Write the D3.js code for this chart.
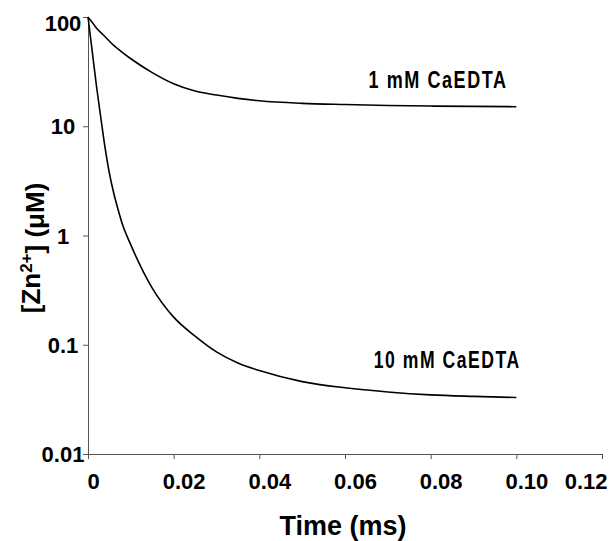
<!DOCTYPE html>
<html>
<head>
<meta charset="utf-8">
<script src="https://cdn.jsdelivr.net/npm/d3@7"></script>
<style>
  body { margin: 0; background: #fff; }
  .tick text { font-family: "Liberation Sans", Arial, sans-serif; font-weight: bold; font-size: 22px; fill: #000; }
  .lbl { font-family: "Liberation Sans", Arial, sans-serif; font-weight: bold; font-size: 23px; letter-spacing: 2px; }
</style>
</head>
<body>
<div class="chart"></div>
<script>
const Margin = { top: 17, right: 8, bottom: 87, left: 88 };
const Width = 610 - Margin.left - Margin.right;
const Height = 541 - Margin.top - Margin.bottom;

// time (ms)
const times = [0, 0.001, 0.002, 0.003, 0.004, 0.005, 0.006, 0.007, 0.008, 0.01, 0.015, 0.02, 0.025, 0.03, 0.035, 0.04, 0.05, 0.06, 0.07, 0.08, 0.09, 0.1];
// [Zn2+] (uM), 1 mM CaEDTA
const zn1mM = [100, 89, 79, 72, 66, 60, 55, 51, 47.5, 41.5, 31, 24.5, 21, 19.3, 18, 17.1, 16.2, 15.8, 15.5, 15.3, 15.2, 15.1];
// [Zn2+] (uM), 10 mM CaEDTA
const zn10mM = [100, 48, 23, 11.9, 6.3, 3.7, 2.45, 1.74, 1.28, 0.82, 0.33, 0.179, 0.12, 0.086, 0.068, 0.058, 0.046, 0.0404, 0.037, 0.0348, 0.0337, 0.0329];

const xTicks = [0, 0.02, 0.04, 0.06, 0.08, 0.10, 0.12];
const xTickLabels = ["0", "0.02", "0.04", "0.06", "0.08", "0.10", "0.12"];
const yTicks = [0.01, 0.1, 1, 10, 100];
const yTickLabels = ["0.01", "0.1", "1", "10", "100"];

const seriesNames = ["1 mM CaEDTA", "10 mM CaEDTA"];

const svg = d3.select(".chart").append("svg")
    .attr("width", 610)
    .attr("height", 541)
  .append("g")
    .attr("transform", "translate(" + Margin.left + "," + Margin.top + ")");

// scales
const x = d3.scaleLinear().domain([0, 0.12]).range([0, Width]);
const y = d3.scaleLog().domain([0.01, 100]).range([Height, 0]);

// x axis
const xAxis = svg.append("g")
    .attr("transform", "translate(0," + Height + ")")
    .call(d3.axisBottom(x)
      .tickValues(xTicks)
      .tickSize(5)
      .tickSizeOuter(0)
      .tickPadding(14)
      .tickFormat((d, i) => xTickLabels[i]));
xAxis.select(".domain").attr("stroke", "#555");
xAxis.selectAll(".tick line").attr("stroke", "#555");
xAxis.selectAll(".tick text")
    .attr("dx", (d, i) => i === 0 ? 5 : 10);
// last label squeezed in at the edge
xAxis.selectAll(".tick text").filter((d, i) => i === xTicks.length - 1)
    .attr("text-anchor", "end").attr("dx", 5);

// y axis
const yAxis = svg.append("g")
    .call(d3.axisLeft(y)
      .tickValues(yTicks)
      .tickSize(5)
      .tickSizeOuter(0)
      .tickPadding(0)
      .tickFormat((d, i) => yTickLabels[i]));
yAxis.select(".domain").attr("stroke", "#555");
yAxis.selectAll(".tick line").attr("stroke", "#555");
yAxis.selectAll(".tick text")
    .attr("text-anchor", "middle")
    .attr("x", -25)
    .attr("dy", (d) => d === 100 ? "0.6em" : "0.35em");

// lines
const valueline = (vals) => d3.line()
    .curve(d3.curveMonotoneX)
    .x((d, i) => x(times[i]))
    .y((d) => y(d))(vals);

[zn1mM, zn10mM].forEach(vals => {
  svg.append("path")
      .attr("d", valueline(vals))
      .attr("fill", "none")
      .attr("stroke", "#000")
      .attr("stroke-width", 1.6);
});

// series labels (narrow lettering)
svg.append("text")
    .attr("class", "lbl")
    .attr("x", x(0.0655))
    .attr("y", y(22.4))
    .attr("textLength", 139)
    .attr("lengthAdjust", "spacingAndGlyphs")
    .text(seriesNames[0]);
svg.append("text")
    .attr("class", "lbl")
    .attr("x", x(0.0667))
    .attr("y", y(0.0607))
    .attr("textLength", 147)
    .attr("lengthAdjust", "spacingAndGlyphs")
    .text(seriesNames[1]);

// x axis label
svg.append("text")
    .attr("x", Width / 2 - 2)
    .attr("y", Height + 81)
    .attr("text-anchor", "middle")
    .style("font-family", "Liberation Sans, Arial, sans-serif")
    .style("font-weight", "bold")
    .style("font-size", "27px")
    .text("Time (ms)");

// y axis label
const yl = svg.append("text")
    .attr("transform", "translate(" + (40 - Margin.left) + "," + (248 - Margin.top) + ") rotate(-90)")
    .attr("text-anchor", "middle")
    .style("font-family", "Liberation Sans, Arial, sans-serif")
    .style("font-weight", "bold")
    .style("font-size", "26px");
yl.append("tspan").text("[Zn");
yl.append("tspan").attr("dy", "-0.45em").style("font-size", "17px").text("2+");
yl.append("tspan").attr("dy", "0.45em").text("] (\u03bcM)");
</script>
</body>
</html>
